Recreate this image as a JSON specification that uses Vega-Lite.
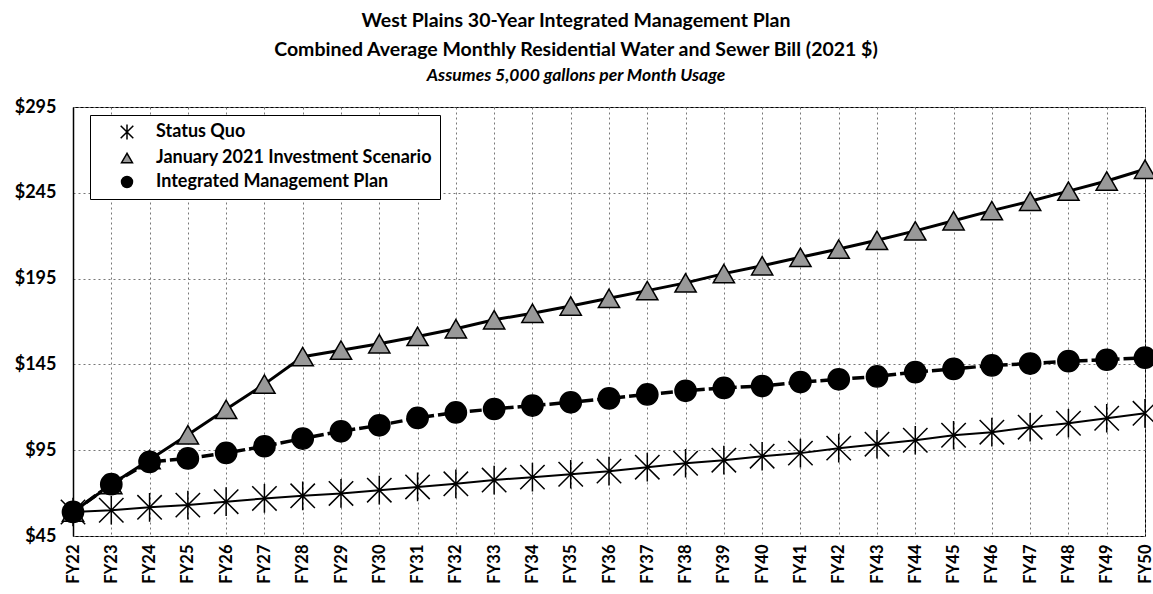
{
  "$schema": "https://vega.github.io/schema/vega-lite/v6.json",
  "width": 1072,
  "height": 429,
  "autosize": {"type": "none"},
  "padding": {"left": 73, "top": 107, "right": 8, "bottom": 58},
  "background": "white",
  "title": {
    "text": ["West Plains 30-Year Integrated Management Plan", "Combined Average Monthly Residential Water and Sewer Bill (2021 $)"],
    "subtitle": "Assumes 5,000 gallons per Month Usage",
    "font": "Lato", "fontSize": 19.5, "fontWeight": "bold", "color": "#000", "lineHeight": 29,
    "subtitleFont": "Lato", "subtitleFontSize": 17.5, "subtitleFontStyle": "italic", "subtitleFontWeight": "bold", "subtitleColor": "#000",
    "subtitlePadding": 6, "anchor": "middle", "dx": -33, "offset": 13
  },
  "config": {
    "view": {"stroke": "#000", "strokeWidth": 1},
    "axis": {"gridColor": "#777", "gridDash": [2, 3], "gridWidth": 1, "gridOpacity": 1, "labelColor": "#000", "labelFont": "Lato", "labelFontWeight": "bold"}
  },
  "data": {"values": [
    {"year":"FY22","series":"Status Quo","value":59},
    {"year":"FY23","series":"Status Quo","value":60},
    {"year":"FY24","series":"Status Quo","value":61.7},
    {"year":"FY25","series":"Status Quo","value":63},
    {"year":"FY26","series":"Status Quo","value":65},
    {"year":"FY27","series":"Status Quo","value":66.9},
    {"year":"FY28","series":"Status Quo","value":68.4},
    {"year":"FY29","series":"Status Quo","value":69.8},
    {"year":"FY30","series":"Status Quo","value":71.7},
    {"year":"FY31","series":"Status Quo","value":73.6},
    {"year":"FY32","series":"Status Quo","value":75.4},
    {"year":"FY33","series":"Status Quo","value":77.6},
    {"year":"FY34","series":"Status Quo","value":79.3},
    {"year":"FY35","series":"Status Quo","value":81},
    {"year":"FY36","series":"Status Quo","value":82.8},
    {"year":"FY37","series":"Status Quo","value":85.1},
    {"year":"FY38","series":"Status Quo","value":87.4},
    {"year":"FY39","series":"Status Quo","value":89.2},
    {"year":"FY40","series":"Status Quo","value":91.5},
    {"year":"FY41","series":"Status Quo","value":93.3},
    {"year":"FY42","series":"Status Quo","value":96.2},
    {"year":"FY43","series":"Status Quo","value":98.5},
    {"year":"FY44","series":"Status Quo","value":100.8},
    {"year":"FY45","series":"Status Quo","value":103.7},
    {"year":"FY46","series":"Status Quo","value":105.5},
    {"year":"FY47","series":"Status Quo","value":108.4},
    {"year":"FY48","series":"Status Quo","value":110.7},
    {"year":"FY49","series":"Status Quo","value":113.6},
    {"year":"FY50","series":"Status Quo","value":116.5},
    {"year":"FY22","series":"January 2021 Investment Scenario","value":59},
    {"year":"FY23","series":"January 2021 Investment Scenario","value":75},
    {"year":"FY24","series":"January 2021 Investment Scenario","value":89.5},
    {"year":"FY25","series":"January 2021 Investment Scenario","value":104},
    {"year":"FY26","series":"January 2021 Investment Scenario","value":118.8},
    {"year":"FY27","series":"January 2021 Investment Scenario","value":133.5},
    {"year":"FY28","series":"January 2021 Investment Scenario","value":149.5},
    {"year":"FY29","series":"January 2021 Investment Scenario","value":153.3},
    {"year":"FY30","series":"January 2021 Investment Scenario","value":157},
    {"year":"FY31","series":"January 2021 Investment Scenario","value":161.3},
    {"year":"FY32","series":"January 2021 Investment Scenario","value":165.8},
    {"year":"FY33","series":"January 2021 Investment Scenario","value":171},
    {"year":"FY34","series":"January 2021 Investment Scenario","value":174.8},
    {"year":"FY35","series":"January 2021 Investment Scenario","value":179},
    {"year":"FY36","series":"January 2021 Investment Scenario","value":183.5},
    {"year":"FY37","series":"January 2021 Investment Scenario","value":188},
    {"year":"FY38","series":"January 2021 Investment Scenario","value":192.5},
    {"year":"FY39","series":"January 2021 Investment Scenario","value":197.9},
    {"year":"FY40","series":"January 2021 Investment Scenario","value":202.5},
    {"year":"FY41","series":"January 2021 Investment Scenario","value":207.4},
    {"year":"FY42","series":"January 2021 Investment Scenario","value":212.2},
    {"year":"FY43","series":"January 2021 Investment Scenario","value":217.3},
    {"year":"FY44","series":"January 2021 Investment Scenario","value":222.8},
    {"year":"FY45","series":"January 2021 Investment Scenario","value":228.7},
    {"year":"FY46","series":"January 2021 Investment Scenario","value":234.6},
    {"year":"FY47","series":"January 2021 Investment Scenario","value":240.1},
    {"year":"FY48","series":"January 2021 Investment Scenario","value":246},
    {"year":"FY49","series":"January 2021 Investment Scenario","value":251.9},
    {"year":"FY50","series":"January 2021 Investment Scenario","value":258.7},
    {"year":"FY22","series":"Integrated Management Plan","value":59},
    {"year":"FY23","series":"Integrated Management Plan","value":75.2},
    {"year":"FY24","series":"Integrated Management Plan","value":88.2},
    {"year":"FY25","series":"Integrated Management Plan","value":90.2},
    {"year":"FY26","series":"Integrated Management Plan","value":93.4},
    {"year":"FY27","series":"Integrated Management Plan","value":97.3},
    {"year":"FY28","series":"Integrated Management Plan","value":101.8},
    {"year":"FY29","series":"Integrated Management Plan","value":106},
    {"year":"FY30","series":"Integrated Management Plan","value":109.5},
    {"year":"FY31","series":"Integrated Management Plan","value":113.8},
    {"year":"FY32","series":"Integrated Management Plan","value":117},
    {"year":"FY33","series":"Integrated Management Plan","value":119},
    {"year":"FY34","series":"Integrated Management Plan","value":121},
    {"year":"FY35","series":"Integrated Management Plan","value":122.9},
    {"year":"FY36","series":"Integrated Management Plan","value":125.2},
    {"year":"FY37","series":"Integrated Management Plan","value":127.5},
    {"year":"FY38","series":"Integrated Management Plan","value":129.6},
    {"year":"FY39","series":"Integrated Management Plan","value":131.3},
    {"year":"FY40","series":"Integrated Management Plan","value":132.4},
    {"year":"FY41","series":"Integrated Management Plan","value":134.7},
    {"year":"FY42","series":"Integrated Management Plan","value":136.3},
    {"year":"FY43","series":"Integrated Management Plan","value":138},
    {"year":"FY44","series":"Integrated Management Plan","value":140.5},
    {"year":"FY45","series":"Integrated Management Plan","value":142.4},
    {"year":"FY46","series":"Integrated Management Plan","value":144.4},
    {"year":"FY47","series":"Integrated Management Plan","value":145.5},
    {"year":"FY48","series":"Integrated Management Plan","value":146.9},
    {"year":"FY49","series":"Integrated Management Plan","value":147.7},
    {"year":"FY50","series":"Integrated Management Plan","value":148.9}
  ]},
  "encoding": {
    "x": {"field": "year", "type": "ordinal", "scale": {"type": "point", "padding": 0},
      "axis": {"title": null, "labelAngle": -90, "labelFontSize": 16.5, "ticks": false, "labelPadding": 8, "domain": false, "grid": true}},
    "y": {"field": "value", "type": "quantitative", "scale": {"domain": [45, 295], "nice": false, "zero": false},
      "axis": {"title": null, "values": [45, 95, 145, 195, 245, 295], "labelExpr": "'$' + datum.value", "labelFontSize": 18, "ticks": false, "labelPadding": 17, "domain": true, "domainColor": "#000", "domainWidth": 1.5, "grid": true}}
  },
  "layer": [
    {
      "transform": [{"filter": "datum.series == 'Status Quo'"}],
      "mark": {"type": "line", "color": "#000", "strokeWidth": 2}
    },
    {
      "transform": [{"filter": "datum.series == 'January 2021 Investment Scenario'"}],
      "mark": {"type": "line", "color": "#000", "strokeWidth": 3}
    },
    {
      "transform": [{"filter": "datum.series == 'Integrated Management Plan'"}],
      "mark": {"type": "line", "color": "#000", "strokeWidth": 3.5, "strokeDash": [12, 4]}
    },
    {
      "mark": {"type": "point", "filled": true, "stroke": "#000", "strokeWidth": 1.5, "opacity": 1, "size": 450},
      "encoding": {
        "shape": {"field": "series", "type": "nominal",
          "scale": {"domain": ["Status Quo", "January 2021 Investment Scenario", "Integrated Management Plan"],
            "range": ["M0,-1.35L0,1.35M-1.15,-1.15L1.15,1.15M-1.15,1.15L1.15,-1.15", "triangle-up", "circle"]},
          "legend": {"title": null, "orient": "none", "legendX": 17, "legendY": 8, "fillColor": "#fff", "strokeColor": "#000", "padding": 8,
            "labelFont": "Lato", "labelFontSize": 18, "labelFontWeight": "bold", "labelColor": "#000", "symbolSize": 120, "symbolOffset": 20, "labelOffset": 20, "rowPadding": 6, "labelLimit": 400,
            "encode": {"legend": {"update": {"strokeWidth": {"value": 1.5}}}, "symbols": {"update": {"stroke": {"value": "#000"}, "strokeWidth": {"value": 1.5}, "opacity": {"value": 1}}}}}},
        "fill": {"field": "series", "type": "nominal",
          "scale": {"domain": ["Status Quo", "January 2021 Investment Scenario", "Integrated Management Plan"], "range": ["#000", "#999", "#000"]}}
      }
    }
  ]
}
